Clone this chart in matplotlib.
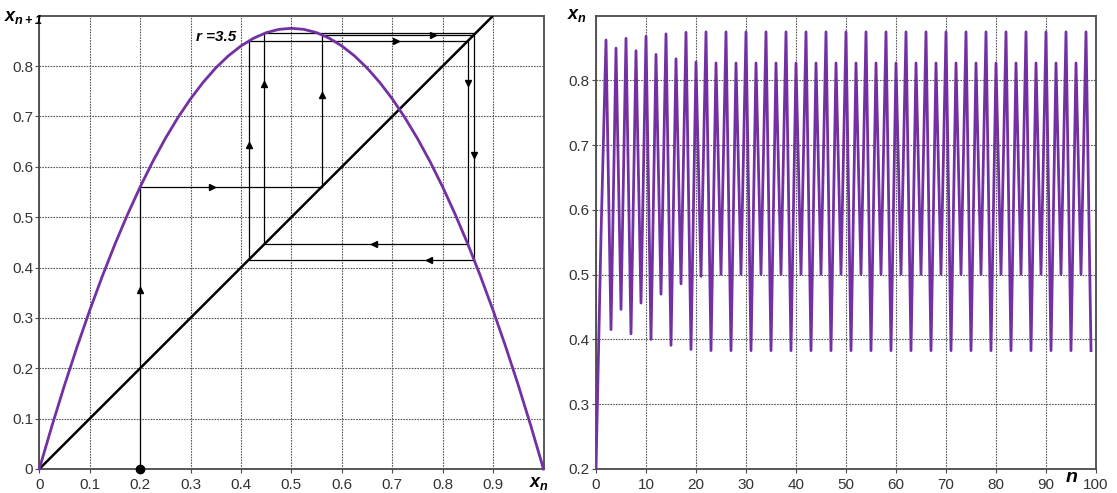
import matplotlib
matplotlib.use("Agg")
import matplotlib.pyplot as plt

plt.rcParams['font.family'] = ['Liberation Sans', 'DejaVu Sans']
plt.rcParams['mathtext.fontset'] = 'custom'
plt.rcParams['mathtext.rm'] = 'Liberation Sans:italic:bold'
plt.rcParams['mathtext.it'] = 'Liberation Sans:italic:bold'
plt.rcParams['mathtext.bf'] = 'Liberation Sans:italic:bold'

# ---- data ----
r_label = "r =3.5"
# map curve x_{n+1} vs x_n
curve_x = [0.0, 0.025, 0.05, 0.075, 0.1, 0.125, 0.15, 0.175, 0.2, 0.225, 0.25,
           0.275, 0.3, 0.325, 0.35, 0.375, 0.4, 0.425, 0.45, 0.475, 0.5,
           0.525, 0.55, 0.575, 0.6, 0.625, 0.65, 0.675, 0.7, 0.725, 0.75,
           0.775, 0.8, 0.825, 0.85, 0.875, 0.9, 0.925, 0.95, 0.975, 1.0]
curve_y = [0.0, 0.0853, 0.1663, 0.2428, 0.315, 0.3828, 0.4463, 0.5053, 0.56, 0.6103, 0.6563,
           0.6978, 0.735, 0.7678, 0.7963, 0.8203, 0.84, 0.8553, 0.8663, 0.8728, 0.875,
           0.8728, 0.8663, 0.8553, 0.84, 0.8203, 0.7963, 0.7678, 0.735, 0.6978, 0.6563,
           0.6103, 0.56, 0.5053, 0.4463, 0.3828, 0.315, 0.2428, 0.1663, 0.0853, 0.0]
diag_x = [0.0, 0.9]
diag_y = [0.0, 0.9]
# cobweb path
cobweb_x = [0.2, 0.2, 0.56, 0.56, 0.8624, 0.8624, 0.4153, 0.4153, 0.8499, 0.8499, 0.4465, 0.4465, 0.865]
cobweb_y = [0.0, 0.56, 0.56, 0.8624, 0.8624, 0.4153, 0.4153, 0.8499, 0.8499, 0.4465, 0.4465, 0.865, 0.865]
start_x = [0.2]
start_y = [0.0]
# arrow heads on the cobweb
arrows_up_x = [0.2, 0.56, 0.4153, 0.4465]
arrows_up_y = [0.355, 0.742, 0.643, 0.764]
arrows_right_x = [0.342, 0.707, 0.781]
arrows_right_y = [0.56, 0.8499, 0.8624]
arrows_down_x = [0.8499, 0.8624]
arrows_down_y = [0.766, 0.623]
arrows_left_x = [0.664, 0.773]
arrows_left_y = [0.4465, 0.4153]

left_xticks = [0, 0.1, 0.2, 0.3, 0.4, 0.5, 0.6, 0.7, 0.8, 0.9]
left_xticklabels = ["0", "0.1", "0.2", "0.3", "0.4", "0.5", "0.6", "0.7", "0.8", "0.9"]
left_yticks = [0, 0.1, 0.2, 0.3, 0.4, 0.5, 0.6, 0.7, 0.8]
left_yticklabels = ["0", "0.1", "0.2", "0.3", "0.4", "0.5", "0.6", "0.7", "0.8"]

# time series x_n, n = 0..99
series_n = list(range(100))
series_x = [0.2, 0.56, 0.8624, 0.4153, 0.8499, 0.4465, 0.8650, 0.4088, 0.8459, 0.4563,
            0.8683, 0.4002, 0.8402, 0.4700, 0.8719, 0.3910, 0.8334, 0.4859, 0.8743, 0.3846,
            0.8284, 0.4975, 0.8750, 0.3829, 0.8270, 0.5008, 0.8750, 0.3828, 0.8269, 0.5009,
            0.8750, 0.3828, 0.8269, 0.5009, 0.8750, 0.3828, 0.8269, 0.5009, 0.8750, 0.3828,
            0.8269, 0.5009, 0.8750, 0.3828, 0.8269, 0.5009, 0.8750, 0.3828, 0.8269, 0.5009,
            0.8750, 0.3828, 0.8269, 0.5009, 0.8750, 0.3828, 0.8269, 0.5009, 0.8750, 0.3828,
            0.8269, 0.5009, 0.8750, 0.3828, 0.8269, 0.5009, 0.8750, 0.3828, 0.8269, 0.5009,
            0.8750, 0.3828, 0.8269, 0.5009, 0.8750, 0.3828, 0.8269, 0.5009, 0.8750, 0.3828,
            0.8269, 0.5009, 0.8750, 0.3828, 0.8269, 0.5009, 0.8750, 0.3828, 0.8269, 0.5009,
            0.8750, 0.3828, 0.8269, 0.5009, 0.8750, 0.3828, 0.8269, 0.5009, 0.8750, 0.3828]
right_xticks = [0, 10, 20, 30, 40, 50, 60, 70, 80, 90, 100]
right_xticklabels = ["0", "10", "20", "30", "40", "50", "60", "70", "80", "90", "100"]
right_yticks = [0.2, 0.3, 0.4, 0.5, 0.6, 0.7, 0.8]
right_yticklabels = ["0.2", "0.3", "0.4", "0.5", "0.6", "0.7", "0.8"]

# ---- style ----
PURPLE = '#7330a2'
GRID = '#5a5a5a'
SPINE = '#4a4a4a'
TICKC = '#333333'

fig = plt.figure(figsize=(11.17, 4.93), dpi=100)
axL = fig.add_axes([39.3 / 1117, 1 - 469 / 493, (543.5 - 39.3) / 1117, (469 - 15.7) / 493])
axR = fig.add_axes([596 / 1117, 1 - 469 / 493, (1096 - 596) / 1117, (469 - 15.7) / 493])

def style(ax):
    ax.grid(True, color=GRID, linestyle=(0, (1.5, 1.0)), linewidth=0.8)
    ax.set_axisbelow(True)
    for s in ax.spines.values():
        s.set_color(SPINE)
        s.set_linewidth(1.3)
    ax.tick_params(length=3, width=0.8, color=SPINE, labelsize=11, labelcolor=TICKC, pad=1.5)
    ax.tick_params(axis='x', pad=3.5)

# left panel
style(axL)
axL.set_xlim(0, 1)
axL.set_ylim(0, 0.9)
axL.set_xticks(left_xticks)
axL.set_xticklabels(left_xticklabels)
axL.set_yticks(left_yticks)
axL.set_yticklabels(left_yticklabels)
axL.plot(diag_x, diag_y, color='black', lw=1.8, solid_capstyle='butt', zorder=3)
axL.plot(curve_x, curve_y, color=PURPLE, lw=2.0, zorder=4, clip_on=False)
axL.plot(cobweb_x, cobweb_y, color='black', lw=0.9, zorder=3)
ms = 4.5
axL.plot(arrows_up_x, arrows_up_y, ls='none', marker='^', ms=ms, color='black', zorder=5)
axL.plot(arrows_down_x, arrows_down_y, ls='none', marker='v', ms=ms, color='black', zorder=5)
axL.plot(arrows_right_x, arrows_right_y, ls='none', marker='>', ms=ms, color='black', zorder=5)
axL.plot(arrows_left_x, arrows_left_y, ls='none', marker='<', ms=ms, color='black', zorder=5)
axL.plot(start_x, start_y, ls='none', marker='o', ms=6, color='black', zorder=6, clip_on=False)
axL.text(0.351, 0.858, r_label, fontsize=11, fontstyle='italic', fontweight='bold',
         ha='center', va='center', color='black', zorder=7)
fig.text(23 / 1117, 1 - 18 / 493, r'$x_{n+1}$', fontsize=13, ha='center', va='center', color='black')
fig.text(539 / 1117, 1 - 484 / 493, r'$x_n$', fontsize=13, ha='center', va='center', color='black')

# right panel
style(axR)
axR.set_xlim(0, 100)
axR.set_ylim(0.2, 0.9)
axR.set_xticks(right_xticks)
axR.set_xticklabels(right_xticklabels)
axR.set_yticks(right_yticks)
axR.set_yticklabels(right_yticklabels)
axR.plot(series_n, series_x, color=PURPLE, lw=2.0, zorder=4)
fig.text(577 / 1117, 1 - 15 / 493, r'$x_n$', fontsize=13, ha='center', va='center', color='black')
fig.text(1072 / 1117, 1 - 478 / 493, r'$n$', fontsize=14, ha='center', va='center', color='black')

fig.savefig('out.png', dpi=100)
